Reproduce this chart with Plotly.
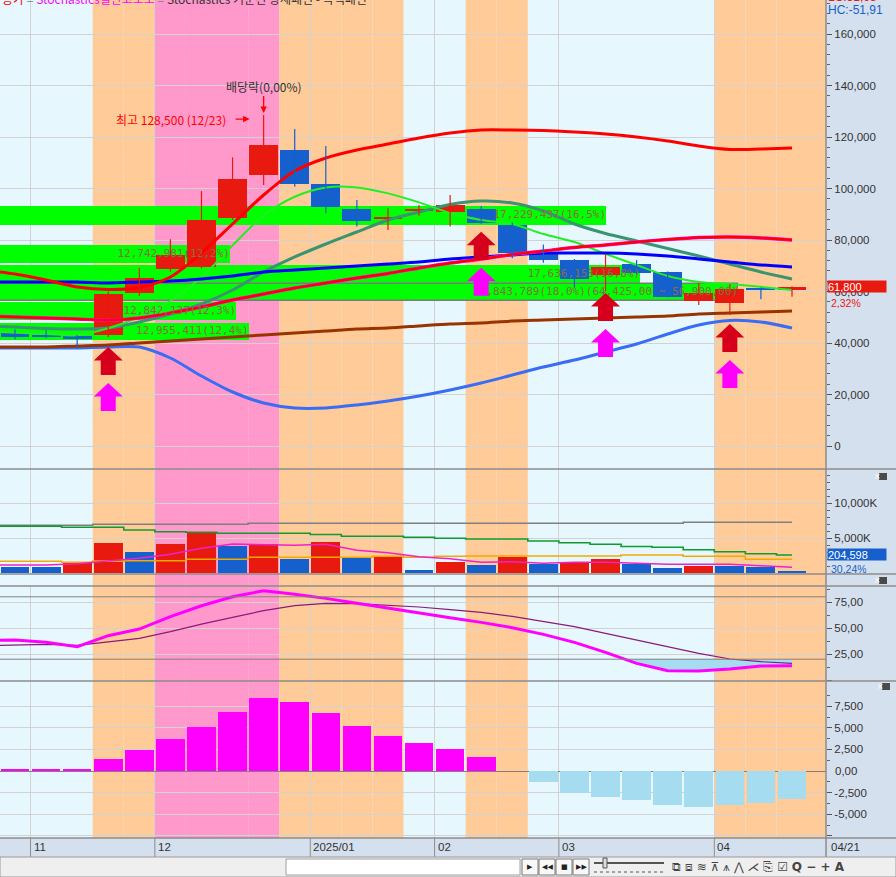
import plotly.graph_objects as go
from datetime import date

W, H = 896, 877

# ---------------- data ----------------
week_start = ["2024-10-28", "2024-11-04", "2024-11-11", "2024-11-18", "2024-11-25",
              "2024-12-02", "2024-12-09", "2024-12-16", "2024-12-23", "2024-12-30",
              "2025-01-06", "2025-01-13", "2025-01-20", "2025-01-27", "2025-02-03",
              "2025-02-10", "2025-02-17", "2025-02-24", "2025-03-03", "2025-03-10",
              "2025-03-17", "2025-03-24", "2025-03-31", "2025-04-07", "2025-04-14",
              "2025-04-21"]
open_ = [43800, 43200, 42700, 43200, 59500, 68600, 69600, 88700, 105200, 115000,
         101700, 92000, 88200, 91500, 91000, 91900, 85800, 74600, 72200, 66400,
         70700, 67700, 56400, 55700, 61500, 60400]
high = [45300, 45000, 43100, 60000, 69200, 80300, 99000, 112100, 128500, 123100,
        116500, 95500, 92300, 93600, 97500, 93200, 86700, 78300, 72600, 74600,
        72200, 67800, 63200, 62900, 61600, 62000]
low = [41400, 41800, 37900, 42200, 58300, 67700, 69000, 87800, 101400, 100700,
       90400, 85200, 83900, 89400, 85200, 86300, 72900, 71200, 61600, 60000,
       66800, 57800, 54800, 50900, 57000, 58000]
close = [42400, 42500, 41400, 59000, 65100, 74000, 87800, 103700, 116900, 101600,
         92900, 87500, 88600, 91800, 93600, 86700, 75100, 72200, 64700, 69400,
         67100, 58000, 59300, 60900, 60400, 61800]
volume_k = [857, 857, 1529, 4286, 3000, 4143, 5757, 3857, 4100, 2000,
            4430, 2140, 2330, 430, 1570, 1143, 2330, 1330, 1530, 2000,
            1286, 714, 1043, 1000, 857, 204.598]
# background zones per week: n = none, o = orange, p = pink
zones = ["n", "n", "n", "o", "o", "p", "p", "p", "p", "o", "o", "o", "o",
         "n", "n", "o", "o", "n", "n", "n", "n", "n", "n", "o", "o", "o"]

# overlay lines, starting one week before the first candle (week -1 .. 25)
line_red_upper = [68350, 66800, 64470, 61750, 60780, 61560, 65630, 74950, 86210, 97480,
                  106800, 111850, 114950, 117280, 119610, 121550, 122720, 122720, 122530,
                  121940, 121170, 120000, 118450, 116510, 115150, 115340, 115730]
line_red_mid = [50490, 50100, 49710, 49320, 48930, 49710, 51650, 53980, 56700, 59030,
                61360, 63300, 65240, 66990, 69130, 71070, 72620, 74370, 75730, 77090,
                78060, 79230, 80200, 80970, 81170, 80780, 80000]
line_blue = [63690, 63690, 63690, 63690, 63300, 63690, 64080, 64860, 66020, 67570,
             68350, 69130, 69900, 70680, 71460, 72620, 73400, 74180, 74950, 74950,
             74950, 74560, 73790, 72620, 71460, 70290, 69510]
line_green = [44500, 44000, 43500, 43000, 45700, 50100, 56400, 65500, 77900, 89500,
              96800, 100400, 100400, 98100, 94600, 90500, 87800, 86200, 82300, 79200,
              74600, 70300, 66000, 63700, 62900, 61800, 60600]
line_teal = [46600, 46210, 45630, 45440, 45830, 48160, 51260, 55150, 60580, 67570,
             73400, 78450, 83110, 87770, 90870, 93790, 95150, 94370, 91260, 86210,
             82520, 79610, 76700, 73790, 70680, 67570, 64850]
line_brown = [38450, 38450, 38450, 38840, 39220, 40000, 40780, 41550, 42330, 43110,
              43880, 44660, 45440, 45830, 46600, 47380, 47770, 48540, 48930, 49320,
              49710, 50100, 50490, 51260, 51650, 52040, 52430]
line_lowblue = [38060, 38060, 38060, 38060, 38450, 38450, 34170, 27180, 20970, 16700,
                14760, 14760, 15920, 17480, 19420, 21750, 24470, 27570, 30680, 33400,
                36510, 39610, 43500, 46990, 48740, 48160, 45830]

vol_line_gray = [6814, 6814, 6814, 6814, 6957, 6957, 6957, 6957, 6957, 7100, 7100, 7100,
                 7100, 7100, 7100, 7100, 7100, 7100, 7100, 7100, 7100, 7100, 7100,
                 7243, 7243, 7243, 7243]
vol_line_green = [6671, 6671, 6671, 6529, 6529, 6143, 5900, 5814, 5671, 5671, 5671, 5500,
                  5243, 5243, 5100, 4957, 4857, 4857, 4571, 4329, 4100, 3786, 3671,
                  3329, 3043, 2757, 2571]
vol_line_orange = [1671, 1671, 1671, 1529, 1700, 1757, 1757, 1957, 1957, 2243, 2243, 2243,
                   2243, 2386, 2243, 2386, 2429, 2429, 2429, 2429, 2429, 2571, 2571,
                   2386, 2386, 1957, 1957]
vol_line_magenta = [1143, 1143, 1143, 1329, 1714, 2100, 2671, 3529, 4143, 4100, 3957, 4100,
                    3243, 2900, 2329, 2043, 1529, 1614, 1386, 1529, 1529, 1386, 1243,
                    1243, 1243, 1043, 814]

stoch_k = [38, 38.5, 36.2, 32, 42.6, 49, 60.9, 71.4, 80, 85.9, 82.4, 78.5, 73.7, 68.9,
           64.1, 59.9, 55.4, 50.3, 43.9, 36.2, 26.6, 16, 9, 8.7, 10.6, 13.5, 13.8]
stoch_d = [33, 33.7, 34.3, 33.3, 36.9, 40, 46.5, 53.8, 60.2, 66.7, 71.5, 73.7, 73.4,
           72.1, 70.2, 67.6, 65, 61.2, 56, 51.3, 44.9, 38.5, 32, 25.6, 20.2, 17.6, 16]

osc_hist = [230, 230, 230, 1390, 2430, 3700, 5090, 6830, 8450, 7990, 6710, 5200, 4050,
            3240, 2550, 1620, 0, -1240, -2510, -2970, -3320, -3900, -4130, -3900,
            -3670, -3280]

# price-volume profile
profile_volume = [17229437, 12742981, 17636153, 18843789, 12842137, 12955411]
profile_pct = ["16,5", "12,2", "16,8", "18,0", "12,3", "12,4"]
profile_high = [93200, 78060, 70290, 62910, 55920, 47770]
profile_low = [85830, 71070, 63300, 56310, 48930, 41170]
profile_len_weeks = [19.5, 7.4, 20.6, 23.75, 7.6, 8.0]
profile_extra = ["", "", "", "(64,425,00 ~ 56,900,00)", "", ""]
profile_max = [False, False, False, True, False, False]

# signal arrows (week index, tip price)
arrow_weeks = [3, 15, 19, 23]
arrow_tip_price = [38450, 83220, 59420, 47380]

record_high_week = 8
vol_ratio_text = "30,24%"

# ---------------- geometry ----------------
STEP = 31.08
PLOT_R = 826
X0 = -15 / STEP
X1 = (PLOT_R - 15) / STEP


def fx(px):
    return px / W


def fy(py):
    return 1 - py / H


MAIN_TOP, MAIN_BOT = 0, 469
VOL_TOP, VOL_BOT = 469, 574
STO_TOP, STO_BOT = 586, 681
HIS_TOP, HIS_BOT = 681, 838

PP = 20000 / 51.5
price_range = [(446 - MAIN_BOT) * PP, (446 - MAIN_TOP) * PP]
VP = 5000 / 35
vol_range = [(573 - VOL_BOT) * VP, (573 - VOL_TOP) * VP]
SP = 25 / 26
sto_range = [(680 - STO_BOT) * SP, (680 - STO_TOP) * SP]
HP = 2500 / 21.6
his_range = [(771 - HIS_BOT) * HP, (771 - HIS_TOP) * HP]

BG = "#E6F8FE"
PANEL = "#D5E0EE"
ORANGE = "#FFCC99"
PINK = "#FF99CC"
GRID = "#D2D2D2"
RED = "#E8190E"
BLUE = "#1560CC"
AXFONT = dict(family="Liberation Sans", size=11.5, color="#333333")

idx = list(range(len(close)))
lidx = list(range(-1, len(close)))

fig = go.Figure()

# ---------------- main panel ----------------
centers = [(a + b) / 2 for a, b in zip(profile_high, profile_low)]
heights = [a - b for a, b in zip(profile_high, profile_low)]
fig.add_trace(go.Bar(
    orientation="h", y=centers, x=profile_len_weeks, base=X0, width=heights,
    marker=dict(color="#00FF00",
                line=dict(color="#7A7A7A", width=[1.5 if m else 0 for m in profile_max])),
    xaxis="x", yaxis="y", hoverinfo="skip"))


def add_line(vals, color, width, shape="spline"):
    fig.add_trace(go.Scatter(x=lidx, y=vals, mode="lines",
                             line=dict(color=color, width=width, shape=shape, smoothing=0.8),
                             xaxis="x", yaxis="y", hoverinfo="skip"))


add_line(line_lowblue, "#3A6CF4", 3)
add_line(line_brown, "#993300", 3)
add_line(line_teal, "#3A9470", 3)
add_line(line_green, "#22EE22", 2)
add_line(line_blue, "#0000FF", 3)
add_line(line_red_mid, "#FF00FF", 3.4)
add_line(line_red_mid, "#FF0000", 2.4)
add_line(line_red_upper, "#FF0000", 3)

# candles: wicks
for col, cond in ((RED, True), (BLUE, False)):
    wx, wy = [], []
    for i in idx:
        if (close[i] >= open_[i]) == cond:
            wx += [i, i, None]
            wy += [low[i], high[i], None]
    fig.add_trace(go.Scatter(x=wx, y=wy, mode="lines", line=dict(color=col, width=1.2),
                             xaxis="x", yaxis="y", hoverinfo="skip"))
# candle bodies
body_base = [min(o, c) for o, c in zip(open_, close)]
body_h = [max(abs(c - o), 550) for o, c in zip(open_, close)]
body_col = [RED if c >= o else BLUE for o, c in zip(open_, close)]
fig.add_trace(go.Bar(x=idx, y=body_h, base=body_base, width=0.93,
                     marker=dict(color=body_col, line=dict(width=0)),
                     xaxis="x", yaxis="y", hoverinfo="skip"))

# profile labels
labels = [f"{v:,}({p}%){e}" for v, p, e in zip(profile_volume, profile_pct, profile_extra)]
fig.add_trace(go.Scatter(x=[X0 + L for L in profile_len_weeks], y=centers, mode="text",
                         text=labels, textposition="middle left",
                         textfont=dict(family="DejaVu Sans Mono", size=11, color="#86703F"),
                         xaxis="x", yaxis="y", hoverinfo="skip"))

# ---------------- volume panel ----------------
vol_col = [BLUE] + [RED if volume_k[i] > volume_k[i - 1] else BLUE for i in range(1, len(volume_k))]
fig.add_trace(go.Bar(x=idx, y=volume_k, width=0.93, marker=dict(color=vol_col, line=dict(width=0)),
                     xaxis="x2", yaxis="y2", hoverinfo="skip"))
for vals, col, shp in ((vol_line_gray, "#7F7F7F", "hvh"), (vol_line_green, "#109A30", "hvh"),
                       (vol_line_orange, "#F2A900", "hvh"), (vol_line_magenta, "#EE22CC", "linear")):
    fig.add_trace(go.Scatter(x=lidx, y=vals, mode="lines", line=dict(color=col, width=1.6, shape=shp),
                             xaxis="x2", yaxis="y2", hoverinfo="skip"))

# ---------------- stochastic panel ----------------
fill_x, fill_b = [], []
for j in range(1, len(stoch_k)):
    k0, k1 = stoch_k[j - 1], stoch_k[j]
    if (k0 - 20) * (k1 - 20) < 0:
        t = (k0 - 20) / (k0 - k1)
        fill_x.append(lidx[j - 1] + t)
        fill_b.append(20)
    if k1 < 20:
        fill_x.append(lidx[j])
        fill_b.append(k1)
fig.add_trace(go.Scatter(x=fill_x, y=[20] * len(fill_x), mode="lines", line=dict(width=0),
                         xaxis="x3", yaxis="y3", hoverinfo="skip"))
fig.add_trace(go.Scatter(x=fill_x, y=fill_b, mode="lines", line=dict(width=0), fill="tonexty",
                         fillcolor="#A6DCF0", xaxis="x3", yaxis="y3", hoverinfo="skip"))
fig.add_trace(go.Scatter(x=lidx, y=stoch_d, mode="lines", line=dict(color="#8B1A7A", width=1.2),
                         xaxis="x3", yaxis="y3", hoverinfo="skip"))
fig.add_trace(go.Scatter(x=lidx, y=stoch_k, mode="lines", line=dict(color="#FF00FF", width=3),
                         xaxis="x3", yaxis="y3", hoverinfo="skip"))

# ---------------- oscillator histogram ----------------
fig.add_trace(go.Bar(x=idx, y=osc_hist, width=0.92,
                     marker=dict(color=["#FF00FF" if v >= 0 else "#A6DCF0" for v in osc_hist],
                                 line=dict(width=0)),
                     xaxis="x4", yaxis="y4", hoverinfo="skip"))

# ---------------- axes ----------------
ds = [date.fromisoformat(s) for s in week_start]
month_breaks, month_labels = [], []
for i in range(1, len(ds)):
    if ds[i].month != ds[i - 1].month:
        month_breaks.append(i - 0.5)
        month_labels.append(f"{ds[i].year}/{ds[i].month:02d}" if ds[i].year != ds[i - 1].year
                            else f"{ds[i].month:02d}")

xcommon = dict(domain=[0, fx(PLOT_R)], range=[X0, X1], showticklabels=False, ticks="",
               tickmode="array", tickvals=month_breaks, showgrid=True, gridcolor=GRID,
               gridwidth=1, zeroline=False, showline=False, fixedrange=True)


def yax(dom_top, dom_bot, rng, tv, tt, minor_vals, extra=None):
    d = dict(domain=[fy(dom_bot), fy(dom_top)], range=rng, side="right", tickmode="array",
             tickvals=tv, ticktext=tt, ticks="outside", ticklen=5, tickcolor="#555555",
             tickfont=AXFONT, showgrid=True, gridcolor=GRID, gridwidth=1, zeroline=False,
             showline=False, fixedrange=True,
             minor=dict(tickmode="array", tickvals=minor_vals, ticks="outside", ticklen=3,
                        tickcolor="#666666", showgrid=False))
    if extra:
        d.update(extra)
    return d


price_ticks = list(range(0, 160001, 20000))
price_minor = [v for v in range(0, 172001, 4000) if v % 20000]
vol_ticks = [5000, 10000]
vol_minor = [v for v in range(1000, 14001, 1000) if v % 5000]
sto_ticks = [0, 25, 50, 75]
sto_minor = [12.5, 37.5, 62.5, 87.5]
his_ticks = [-7500, -5000, -2500, 2500, 5000, 7500]
his_minor = [v for v in range(-7500, 10001, 1250) if v % 2500]

fig.update_layout(
    width=W, height=H, margin=dict(l=0, r=0, t=0, b=0), autosize=False,
    paper_bgcolor=PANEL, plot_bgcolor="rgba(0,0,0,0)", showlegend=False,
    barmode="overlay", bargap=0, hovermode=False,
    font=dict(family="Liberation Sans", size=12, color="#333333"),
    xaxis=dict(xcommon, anchor="y"),
    xaxis2=dict(xcommon, anchor="y2"),
    xaxis3=dict(xcommon, anchor="y3"),
    xaxis4=dict(xcommon, anchor="y4"),
    yaxis=yax(MAIN_TOP, MAIN_BOT, price_range, price_ticks, [f"{v:,}" for v in price_ticks],
              price_minor, dict(anchor="x")),
    yaxis2=yax(VOL_TOP, VOL_BOT, vol_range, vol_ticks, [f"{v:,}K" for v in vol_ticks],
               vol_minor, dict(anchor="x2")),
    yaxis3=yax(STO_TOP, STO_BOT, sto_range, sto_ticks,
               ["" if v == 0 else f"{v},00" for v in sto_ticks], sto_minor, dict(anchor="x3")),
    yaxis4=yax(HIS_TOP, HIS_BOT, his_range, his_ticks,
               ["" if v == -7500 else f"{v:,}" for v in his_ticks], his_minor,
               dict(anchor="x4", zeroline=True, zerolinecolor="#808080", zerolinewidth=1.2)),
)
# zero label of histogram axis
ann = [dict(xref="paper", yref="y4", x=fx(833), y=0, text="0,00", showarrow=False,
            xanchor="left", yanchor="middle", font=AXFONT)]

# ---------------- shapes ----------------
shapes = [dict(type="rect", xref="paper", yref="paper", x0=0, x1=fx(PLOT_R), y0=fy(HIS_BOT),
               y1=1, fillcolor=BG, line_width=0, layer="below")]
zone_color = {"o": ORANGE, "p": PINK}
for i, z in enumerate(zones):
    if z in zone_color:
        shapes.append(dict(type="rect", xref="x", yref="paper", x0=i - 0.5,
                           x1=X1 if i == len(zones) - 1 else i + 0.5,
                           y0=fy(HIS_BOT), y1=1, fillcolor=zone_color[z], line_width=0,
                           layer="below"))
# stochastic reference levels
for lvl in (20, 80):
    shapes.append(dict(type="line", xref="x3 domain", yref="y3", x0=0, x1=1, y0=lvl, y1=lvl,
                       line=dict(color="#808080", width=1)))
# panel separators
for py in (VOL_TOP, VOL_BOT, STO_TOP, HIS_TOP, HIS_BOT):
    shapes.append(dict(type="line", xref="paper", yref="paper", x0=0, x1=1, y0=fy(py), y1=fy(py),
                       line=dict(color="#8C8C8C", width=1.5), layer="above"))
shapes.append(dict(type="line", xref="paper", yref="paper", x0=fx(PLOT_R), x1=fx(PLOT_R),
                   y0=fy(857), y1=1, line=dict(color="#8C8C8C", width=1.5), layer="above"))
# date band separators
for mb in month_breaks:
    shapes.append(dict(type="line", xref="x", yref="paper", x0=mb, x1=mb, y0=fy(857),
                       y1=fy(HIS_BOT), line=dict(color="#8C8C8C", width=1), layer="above"))


# arrows
def arrow_path(dy):
    pts = [(0, 0), (14.5, -13.5), (7.5, -13.5), (7.5, -28), (-7.5, -28), (-7.5, -13.5),
           (-14.5, -13.5)]
    return "M" + " L".join(f"{x},{y - dy}" for x, y in pts) + " Z"


for w, p in zip(arrow_weeks, arrow_tip_price):
    for dy, col in ((0, "#D6001C"), (36, "#FF00FF")):
        shapes.append(dict(type="path", xref="x", yref="y", xsizemode="pixel", ysizemode="pixel",
                           xanchor=w, yanchor=p, path=arrow_path(dy), fillcolor=col,
                           line=dict(width=0), layer="above"))
# close boxes on right panel
for (bx, by) in ((879, 473), (879, 577), (882, 683)):
    shapes.append(dict(type="rect", xref="paper", yref="paper", x0=fx(bx), x1=fx(bx + 8),
                       y0=fy(by + 7), y1=fy(by), fillcolor="#4A4A4A", line_width=0, layer="above"))
# toolbar
shapes.append(dict(type="rect", xref="paper", yref="paper", x0=0, x1=1, y0=0, y1=fy(857),
                   fillcolor="#EFEFEF", line=dict(color="#9A9A9A", width=1), layer="above"))
shapes.append(dict(type="rect", xref="paper", yref="paper", x0=fx(286), x1=fx(520),
                   y0=fy(875), y1=fy(859), fillcolor="#FFFFFF",
                   line=dict(color="#A0A0A0", width=1), layer="above"))
for bx in (522, 539, 556, 573):
    shapes.append(dict(type="rect", xref="paper", yref="paper", x0=fx(bx), x1=fx(bx + 16),
                       y0=fy(875), y1=fy(859), fillcolor="#F8F8F8",
                       line=dict(color="#7A7A7A", width=1), layer="above"))
shapes.append(dict(type="line", xref="paper", yref="paper", x0=fx(594), x1=fx(664),
                   y0=fy(863), y1=fy(863), line=dict(color="#555555", width=2), layer="above"))
shapes.append(dict(type="rect", xref="paper", yref="paper", x0=fx(603), x1=fx(607),
                   y0=fy(868), y1=fy(858), fillcolor="#DDDDDD",
                   line=dict(color="#555555", width=1), layer="above"))
shapes.append(dict(type="line", xref="paper", yref="paper", x0=fx(594), x1=fx(664),
                   y0=fy(872), y1=fy(872), line=dict(color="#555555", width=1, dash="dot"),
                   layer="above"))
fig.update_layout(shapes=shapes)

# ---------------- annotations ----------------
for mb, lab in zip(month_breaks, month_labels):
    ann.append(dict(xref="x", yref="paper", x=mb, y=fy(847), text=lab, showarrow=False,
                    xanchor="left", yanchor="middle", xshift=1, font=AXFONT))
ann.append(dict(xref="paper", yref="paper", x=fx(829), y=fy(847),
                text=f"{ds[-1].month:02d}/{ds[-1].day:02d}", showarrow=False, xanchor="left",
                yanchor="middle", font=AXFONT))
# record high & ex-dividend markers
ann.append(dict(xref="x", yref="y", x=record_high_week, y=high[record_high_week],
                text=f"최고 {high[record_high_week]:,} ({ds[record_high_week].month}/{ds[record_high_week].day})",
                showarrow=False, xanchor="right", yanchor="middle", xshift=-36, yshift=-4,
                font=dict(family="Noto Sans CJK KR", size=12, color="#FF0000")))
ann.append(dict(xref="x", yref="y", x=record_high_week, y=high[record_high_week], text=" ",
                showarrow=True, arrowhead=2, arrowsize=1, arrowwidth=1.3, arrowcolor="#FF0000",
                ax=-17, ay=0, xshift=-14, yshift=-4))
ann.append(dict(xref="x", yref="y", x=record_high_week, y=high[record_high_week],
                text="배당락(0,00%)", showarrow=True, arrowhead=2, arrowsize=1, arrowwidth=1.3,
                arrowcolor="#FF0000", ax=0, ay=-29, standoff=2,
                font=dict(family="Noto Sans CJK KR", size=12, color="#333333")))
# right side value boxes
SMALL = dict(family="Liberation Sans", size=11)
chg = (close[-1] / close[-2] - 1) * 100
ann.append(dict(xref="paper", yref="y", x=fx(827), y=close[-1], text=f"{close[-1]:,}",
                showarrow=False, xanchor="left", yanchor="middle", align="left", width=58,
                height=11, bgcolor=RED, borderpad=0, font=dict(SMALL, color="white")))
ann.append(dict(xref="paper", yref="y", x=fx(829), y=close[-1], yshift=-16,
                text=f"{chg:.2f}%".replace(".", ","), showarrow=False, xanchor="left",
                yanchor="middle", height=11, font=dict(family="Liberation Sans", size=10.5,
                                                        color="#E8190E")))
ann.append(dict(xref="paper", yref="paper", x=fx(827), y=fy(554),
                text=f"{round(volume_k[-1] * 1000):,}", showarrow=False, xanchor="left",
                yanchor="middle", align="left", width=58, height=11, bgcolor=BLUE, borderpad=0,
                font=dict(SMALL, color="white")))
ann.append(dict(xref="paper", yref="paper", x=fx(829), y=fy(568), text=vol_ratio_text,
                showarrow=False, xanchor="left", yanchor="middle", height=11,
                font=dict(family="Liberation Sans", size=10.5, color=BLUE)))
ann.append(dict(xref="paper", yref="paper", x=fx(826), y=fy(10), text="HC:-51,91",
                showarrow=False, xanchor="left", yanchor="middle",
                font=dict(family="Liberation Sans", size=12, color=BLUE)))
ann.append(dict(xref="paper", yref="paper", x=fx(826), y=fy(-3), text="LC:51,68",
                showarrow=False, xanchor="left", yanchor="middle",
                font=dict(family="Liberation Sans", size=12, color="#E8190E")))
# header (cut off at the top)
ann.append(dict(xref="paper", yref="paper", x=0, y=fy(-2), xanchor="left", yanchor="middle",
                showarrow=False,
                text=("<span style='color:#FF0000'>종가</span>"
                      "<span style='color:#808080'> = </span>"
                      "<span style='color:#FF00FF'>Stochastics일반고오소</span>"
                      "<span style='color:#808080'> = </span>"
                      "<span style='color:#333333'>Stochastics 기준선 상세패턴 - 녹색패턴</span>"),
                font=dict(family="Noto Sans CJK KR", size=12)))
# close box glyphs
for (bx, by) in ((879, 473), (879, 577), (882, 683)):
    ann.append(dict(xref="paper", yref="paper", x=fx(bx + 4), y=fy(by + 3.5), text="×",
                    showarrow=False, yanchor="middle",
                    font=dict(family="DejaVu Sans", size=8, color="white")))
# toolbar glyphs
for bx, g in ((530, "▶"), (547, "◀◀"), (564, "■"), (581, "▶▶")):
    ann.append(dict(xref="paper", yref="paper", x=fx(bx), y=fy(867), text=g, showarrow=False,
                    yanchor="middle", font=dict(family="DejaVu Sans", size=7, color="#222222")))
ann.append(dict(xref="paper", yref="paper", x=fx(670), y=fy(867), xanchor="left",
                yanchor="middle", text="⧉ ⧈ ≋ ⊼ ⩚ ⋀ ⋌ ⎘ ☑ <b>Q − + A</b>", showarrow=False,
                font=dict(family="DejaVu Sans", size=12, color="#444444")))
fig.update_layout(annotations=ann)

fig.write_html("out.html", include_plotlyjs=True, config={"displayModeBar": False},
               post_script="document.body.style.margin='0';document.body.style.overflow='hidden';")
